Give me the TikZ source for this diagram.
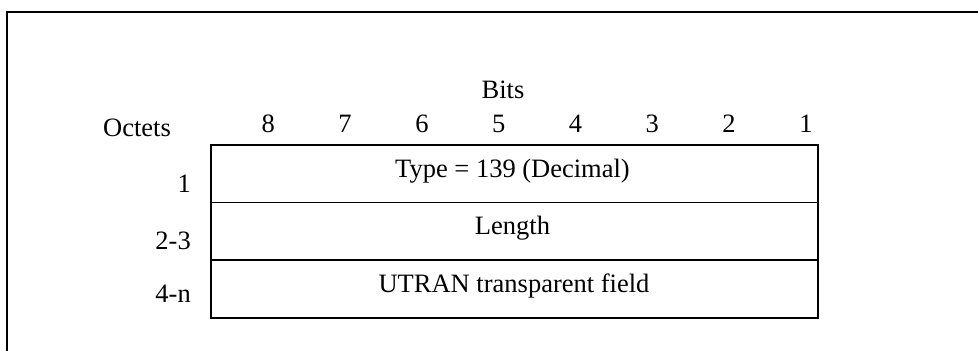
\documentclass[tikz,border=0pt]{standalone}
\usepackage{fontspec}
\setmainfont{Liberation Serif}
\begin{document}
\begin{tikzpicture}[x=1pt,y=-1pt,
  txt/.style={font=\fontsize{26.5}{30}\selectfont, inner sep=0pt, anchor=base},
  rlabel/.style={txt, anchor=base east},
  rowbox/.style={draw, line width=1.6pt, minimum width=607pt, minimum height=57.7pt, inner sep=0pt, anchor=north west}]
\useasboundingbox (0,0) rectangle (978,351);
\begin{scope}
  \clip (0,0) rectangle (978,351);
  \draw[line width=2pt] (7,12.3) rectangle (1000,400);
\end{scope}
% table rows
\node[rowbox] (r1) at (210,144) {};
\node[rowbox] (r2) at (210,201.7) {};
\node[rowbox] (r3) at (210,259.4) {};
% header
\node[txt] (bits) at (503,98) {Bits};
\node[txt] (oct) at (137,136) {Octets};
\foreach \b [count=\i from 0] in {8,7,6,5,4,3,2,1} {
  \node[txt] (b\b) at (268.3+76.8*\i,132.3) {\b};
}
% fields
\node[txt] (f1) at (512.5,177) {Type = 139 (Decimal)};
\node[txt] (f2) at (512.5,234.7) {Length};
\node[txt] (f3) at (514,292.4) {UTRAN transparent field};
% row labels
\node[rlabel] (o1) at (191,192.5) {1};
\node[rlabel] (o2) at (191,249.5) {2-3};
\node[rlabel] (o3) at (191,302.5) {4-n};
\end{tikzpicture}
\end{document}
